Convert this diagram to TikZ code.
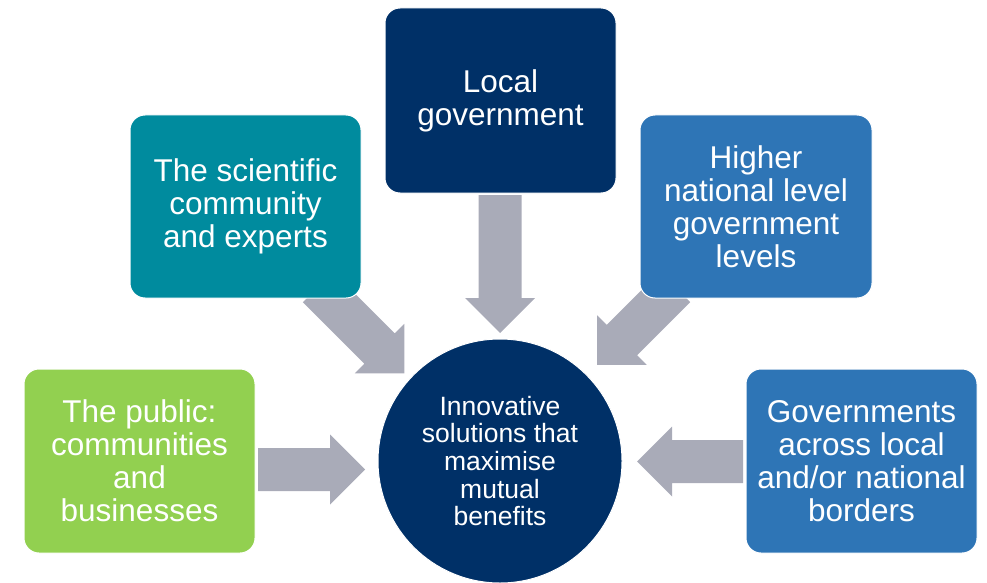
\documentclass[tikz,border=0pt]{standalone}
\usepackage{fontspec}
\setmainfont{Liberation Sans}
\definecolor{navy}{RGB}{0,48,103}
\definecolor{tealc}{RGB}{0,139,158}
\definecolor{bluec}{RGB}{46,117,182}
\definecolor{greenc}{RGB}{146,208,80}
\definecolor{arrowgray}{RGB}{169,171,184}
\newcommand{\garrow}[4]{%
  \begin{scope}[shift={(#1,-#2)},rotate=#3]
    \fill[arrowgray] (0,-21.5) -- (#4-35,-21.5) -- (#4-35,-35) -- (#4,0)
      -- (#4-35,35) -- (#4-35,21.5) -- (0,21.5) -- cycle;
  \end{scope}}
\tikzset{
  box/.style={draw=white, line width=1pt, rounded corners=15pt, minimum width=231pt,
    minimum height=184pt, inner sep=0pt, align=center, text=white,
    font=\fontsize{31.5}{33}\selectfont},
  hub/.style={circle, fill=navy, draw=white, line width=1pt, minimum size=244pt, inner sep=0pt,
    align=center, text=white, font=\fontsize{26.5}{27.7}\selectfont}
}
\begin{document}
\begin{tikzpicture}[x=1pt,y=1pt]
\useasboundingbox (0,0) rectangle (987,-583);
% arrows
\garrow{500}{195}{-90}{138}
\garrow{258}{469.5}{0}{107}
\garrow{743}{461.5}{180}{106}
\garrow{318}{287}{-45}{122}
\garrow{675}{287}{-135}{110}
% boxes
\node[box, fill=navy, minimum height=185pt] (local) at (500.5,-100.5) {Local\\government};
\node[box, fill=tealc, minimum height=183pt] (sci) at (245.5,-206.5) {The scientific\\community\\and experts};
\node[box, fill=bluec, minimum width=232pt, minimum height=183pt] (higher) at (756,-206.5) {Higher\\national level\\government\\levels};
\node[box, fill=greenc] (public) at (139.5,-461) {The public:\\communities\\and\\businesses};
\node[box, fill=bluec] (gov) at (861.5,-461) {Governments\\across local\\and/or national\\borders};
\node[hub] (hub) at (500,-461) {Innovative\\solutions that\\maximise\\mutual\\benefits};
\end{tikzpicture}
\end{document}
